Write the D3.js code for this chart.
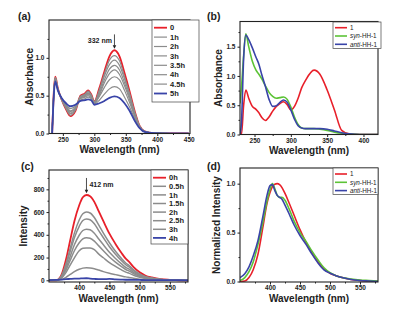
<!DOCTYPE html>
<html lang="en">
<head>
<meta charset="UTF-8">
<title>Absorption and emission spectra</title>
<script src="https://d3js.org/d3.v7.min.js"></script>
<style>
  body { margin: 0; background: #fff; }
  svg { display: block; font-family: "Liberation Sans", Arial, sans-serif; }
  .tick text { font-size: 6.5px; font-weight: bold; fill: #222; }
  .tick line { stroke: #222; }
  .axis path.domain { display: none; }
  .frame { fill: none; stroke: #222; stroke-width: 1.1; }
  .title { font-size: 10px; font-weight: bold; fill: #222; }
  .plabel { font-size: 10.5px; font-weight: bold; fill: #222; }
</style>
</head>
<body>
<script>
// ---- (a) absorbance vs time ----
const wlA = [233, 236, 238, 242, 248, 255, 262, 270, 278, 285, 290, 295, 300, 308, 316, 324, 332, 340, 348, 356, 364, 372, 380, 395, 420, 450];
const absA0   = [0, .60, .75, .60, .45, .32, .23, .30, .50, .53, .57, .52, .42, .60, .82, 1.02, 1.10, 1.02, .80, .56, .30, .10, .03, .005, 0, 0];
const absA1h  = [0, .59, .74, .60, .45, .33, .24, .31, .49, .52, .56, .51, .42, .58, .79, .97, 1.03, .96, .75, .53, .29, .10, .03, .005, 0, 0];
const absA2h  = [0, .59, .74, .59, .45, .34, .26, .32, .49, .51, .54, .50, .41, .56, .76, .91, .97, .90, .72, .51, .27, .09, .03, .005, 0, 0];
const absA3h  = [0, .58, .73, .59, .46, .35, .27, .33, .48, .50, .53, .49, .41, .53, .71, .85, .90, .84, .67, .48, .26, .09, .027, .005, 0, 0];
const absA35h = [0, .58, .72, .59, .46, .35, .29, .33, .47, .49, .52, .49, .40, .51, .67, .79, .84, .78, .63, .45, .24, .09, .026, .005, 0, 0];
const absA4h  = [0, .57, .72, .58, .46, .37, .30, .35, .46, .48, .50, .47, .40, .49, .61, .71, .75, .71, .57, .41, .23, .08, .024, .005, 0, 0];
const absA45h = [0, .56, .70, .57, .47, .38, .33, .36, .44, .46, .48, .46, .39, .44, .52, .59, .62, .59, .48, .35, .20, .08, .022, .005, 0, 0];
const absA5h  = [0, .55, .69, .57, .47, .40, .36, .38, .43, .44, .45, .44, .38, .40, .43, .47, .49, .47, .40, .30, .17, .07, .02, .005, 0, 0];
const labelsA = ["0", "1h", "2h", "3h", "3.5h", "4h", "4.5h", "5h"];

// ---- (b) absorbance of 1, syn-HH-1, anti-HH-1 ----
const wlB = [230, 232, 235, 238, 242, 247, 252, 256, 260, 265, 270, 275, 280, 285, 290, 295, 300, 305, 310, 315, 320, 332, 340, 350, 360, 370, 380, 395, 420];
const absB1    = [0, 0, .50, .76, .62, .48, .43, .37, .29, .24, .30, .40, .48, .53, .56, .51, .42, .48, .62, .80, .92, 1.10, 1.03, .76, .42, .07, .01, 0, 0];
const absBsyn  = [.53, .80, 1.35, 1.72, 1.50, 1.25, 1.10, 1.03, .95, .83, .72, .65, .62, .63, .64, .60, .47, .30, .17, .11, .10, .10, .09, .07, .04, .02, .01, 0, 0];
const absBanti = [0, .20, 1.30, 1.70, 1.62, 1.48, 1.32, 1.20, 1.02, .82, .60, .48, .49, .55, .59, .55, .42, .26, .15, .11, .10, .10, .10, .09, .06, .03, .01, 0, 0];

// ---- (c) emission vs time ----
const wlC = [350, 362, 370, 378, 385, 392, 400, 406, 412, 418, 425, 432, 440, 450, 460, 470, 477, 483, 490, 500, 510, 520, 535, 550, 565, 580];
const emC0h  = [0, 0, 40, 180, 350, 520, 660, 730, 750, 740, 690, 610, 520, 410, 320, 240, 190, 160, 115, 70, 40, 25, 10, 4, 0, 0];
const emC05h = [0, 0, 32, 144, 280, 415, 530, 585, 600, 592, 552, 490, 415, 330, 255, 192, 152, 128, 92, 56, 32, 20, 8, 3, 0, 0];
const emC1h  = [0, 0, 29, 130, 252, 374, 475, 526, 540, 533, 497, 439, 374, 295, 230, 173, 137, 115, 83, 50, 29, 18, 7, 3, 0, 0];
const emC15h = [0, 0, 24, 108, 210, 312, 396, 438, 450, 444, 414, 366, 312, 246, 192, 144, 114, 96, 69, 42, 24, 15, 6, 2, 0, 0];
const emC2h  = [0, 0, 20, 90, 175, 260, 330, 365, 375, 370, 345, 305, 260, 205, 160, 120, 95, 80, 58, 35, 20, 12, 5, 2, 0, 0];
const emC25h = [0, 0, 15, 68, 133, 198, 260, 282, 285, 284, 270, 232, 198, 156, 122, 91, 72, 61, 44, 27, 15, 10, 4, 1, 0, 0];
const emC3h  = [0, 0, 6, 26, 51, 76, 97, 107, 110, 108, 101, 90, 76, 62, 50, 38, 30, 24, 17, 10, 6, 4, 2, 0, 0, 0];
const emC4h  = [2, 3, 6, 10, 12, 14, 15, 17, 18, 15, 12, 10, 10, 12, 8, 6, 5, 5, 4, 3, 2, 2, 2, 1, 1, 0];
const labelsC = ["0h", "0.5h", "1h", "1.5h", "2h", "2.5h", "3h", "4h"];

// ---- (d) normalized emission ----
const wlD = [350, 358, 365, 372, 380, 388, 395, 400, 404, 408, 412, 416, 420, 425, 432, 440, 450, 460, 470, 480, 490, 500, 510, 520, 535, 550, 565, 580];
const emD1    = [0, .005, .04, .12, .28, .55, .80, .91, .97, .995, 1.0, .99, .96, .90, .80, .68, .53, .40, .29, .20, .13, .085, .06, .04, .02, .01, .005, 0];
const emDsyn  = [.01, .04, .10, .20, .38, .60, .82, .94, 1.0, .95, .88, .86, .86, .83, .74, .62, .50, .41, .31, .22, .14, .09, .06, .04, .025, .015, .01, .005];
const emDanti = [.04, .08, .15, .26, .42, .66, .88, .98, .99, .93, .88, .86, .84, .78, .69, .58, .47, .38, .28, .19, .12, .085, .06, .04, .02, .01, .005, 0];
const labelsBD = ["1", "syn-HH-1", "anti-HH-1"];

const RED = "#e8202a", GREEN = "#5cc336", BLUE = "#3944a8", GRAY = "#8c8c8c";

const svg = d3.select("body").append("svg").attr("width", 397).attr("height", 312);

function drawPanel(o) {
  const g = svg.append("g");
  const x = d3.scaleLinear().domain(o.xDomain).range([o.left, o.right]);
  const y = d3.scaleLinear().domain(o.yDomain).range([o.bottom, o.top]);

  const clipId = "clip-" + o.id;
  svg.append("clipPath").attr("id", clipId).append("rect")
    .attr("x", o.left).attr("y", o.top)
    .attr("width", o.right - o.left).attr("height", o.bottom - o.top);

  const line = d3.line().x(d => x(d[0])).y(d => y(d[1])).curve(d3.curveMonotoneX);
  const curves = g.append("g").attr("clip-path", `url(#${clipId})`);
  o.series.forEach(s => {
    curves.append("path")
      .attr("d", line(d3.zip(s.wl, s.values)))
      .attr("fill", "none").attr("stroke", s.color).attr("stroke-width", s.width)
      .attr("stroke-linejoin", "round");
  });

  // minor ticks between the labelled ones
  const step = o.xTicks[1] - o.xTicks[0];
  const xMinor = d3.range(o.xTicks[0] - step / 2, o.xDomain[1], step / 2)
    .filter(v => v >= o.xDomain[0] && !o.xTicks.includes(v));
  const ystep = o.yTicks[1] - o.yTicks[0];
  const yMinor = d3.range(o.yTicks[0] - ystep / 2, o.yDomain[1], ystep / 2)
    .filter(v => v >= o.yDomain[0] && !o.yTicks.includes(v));

  g.append("g").attr("class", "axis").attr("transform", `translate(0,${o.bottom})`)
    .call(d3.axisBottom(x).tickValues(xMinor).tickSize(1.5).tickFormat(""));
  g.append("g").attr("class", "axis").attr("transform", `translate(${o.left},0)`)
    .call(d3.axisLeft(y).tickValues(yMinor).tickSize(1.5).tickFormat(""));
  g.append("g").attr("class", "axis").attr("transform", `translate(0,${o.bottom})`)
    .call(d3.axisBottom(x).tickValues(o.xTicks).tickSize(2.5).tickPadding(1.2));
  g.append("g").attr("class", "axis").attr("transform", `translate(${o.left},0)`)
    .call(d3.axisLeft(y).tickValues(o.yTicks).tickSize(2.5).tickPadding(2)
      .tickFormat(o.yFormat));

  g.append("rect").attr("class", "frame")
    .attr("x", o.left).attr("y", o.top)
    .attr("width", o.right - o.left).attr("height", o.bottom - o.top);

  // titles
  g.append("text").attr("class", "title").attr("text-anchor", "middle")
    .attr("x", (o.left + o.right) / 2).attr("y", o.bottom + 19.5)
    .text("Wavelength (nm)");
  g.append("text").attr("class", "title").attr("text-anchor", "middle")
    .attr("transform", `translate(${o.yTitleX},${(o.top + o.bottom) / 2}) rotate(-90)`)
    .text(o.yTitle);
  g.append("text").attr("class", "plabel")
    .attr("x", o.labelX).attr("y", o.labelY).text(o.label);

  // legend
  const L = o.legend;
  const lg = g.append("g");
  lg.append("rect").attr("x", L.x0).attr("y", L.y0)
    .attr("width", L.x1 - L.x0).attr("height", L.y1 - L.y0)
    .attr("fill", "#fff").attr("stroke", "#444").attr("stroke-width", 0.7);
  o.series.forEach((s, i) => {
    const yy = L.row0 + i * L.step;
    lg.append("line").attr("x1", L.x0 + 2).attr("x2", L.x0 + L.lineLen + 2)
      .attr("y1", yy).attr("y2", yy)
      .attr("stroke", s.color).attr("stroke-width", s.width);
    const t = lg.append("text").attr("x", L.x0 + L.lineLen + 5).attr("y", yy + L.fontSize * 0.36)
      .attr("font-size", L.fontSize).attr("font-weight", L.bold ? "bold" : "normal")
      .attr("fill", "#222");
    const m = s.label.match(/^(syn|anti)(-.*)$/);
    if (m) {
      t.append("tspan").attr("font-style", "italic").text(m[1]);
      t.append("tspan").text(m[2]);
    } else {
      t.text(s.label);
    }
  });

  // peak annotation
  if (o.note) {
    const n = o.note;
    const ax = x(n.wl);
    g.append("line").attr("x1", ax).attr("x2", ax)
      .attr("y1", y(n.from)).attr("y2", y(n.to) - 3)
      .attr("stroke", "#222").attr("stroke-width", 0.8);
    g.append("path")
      .attr("d", `M${ax - 1.8},${y(n.to) - 3.5}L${ax + 1.8},${y(n.to) - 3.5}L${ax},${y(n.to)}Z`)
      .attr("fill", "#222");
    g.append("text").attr("font-size", 7).attr("font-weight", "bold").attr("fill", "#222")
      .attr("text-anchor", n.side === "left" ? "end" : "start")
      .attr("x", n.side === "left" ? ax - 2.5 : ax + 3)
      .attr("y", y(n.textAt))
      .text(n.text);
  }
}

const fmt1 = d3.format(".1f");

drawPanel({
  id: "a", label: "(a)", labelX: 18, labelY: 19.5,
  left: 49, right: 190, top: 20, bottom: 133.5,
  xDomain: [228, 452], yDomain: [0, 1.5],
  xTicks: [250, 300, 350, 400, 450], yTicks: [0, 0.5, 1.0], yFormat: fmt1,
  yTitle: "Absorbance", yTitleX: 33,
  series: [absA0, absA1h, absA2h, absA3h, absA35h, absA4h, absA45h, absA5h].map((v, i, arr) => ({
    wl: wlA, values: v, label: labelsA[i],
    color: i === 0 ? RED : i === arr.length - 1 ? BLUE : GRAY,
    width: i === 0 || i === arr.length - 1 ? 1.8 : 1.2
  })),
  legend: { x0: 152, x1: 199, y0: 20, y1: 102, row0: 27.7, step: 9.4, lineLen: 13, fontSize: 7.5, bold: true },
  note: { wl: 332, from: 1.31, to: 1.12, textAt: 1.2, text: "332 nm", side: "left" }
});

drawPanel({
  id: "b", label: "(b)", labelX: 207, labelY: 19.5,
  left: 240, right: 378, top: 21.5, bottom: 134.5,
  xDomain: [230, 420], yDomain: [0, 1.93],
  xTicks: [250, 300, 350, 400], yTicks: [0, 0.5, 1.0, 1.5], yFormat: fmt1,
  yTitle: "Absorbance", yTitleX: 222,
  series: [
    { wl: wlB, values: absB1, label: labelsBD[0], color: RED, width: 1.6 },
    { wl: wlB, values: absBsyn, label: labelsBD[1], color: GREEN, width: 1.6 },
    { wl: wlB, values: absBanti, label: labelsBD[2], color: BLUE, width: 1.6 }
  ],
  legend: { x0: 333, x1: 381, y0: 22, y1: 48.5, row0: 27.7, step: 8.3, lineLen: 12, fontSize: 6.3, bold: false }
});

drawPanel({
  id: "c", label: "(c)", labelX: 21, labelY: 170,
  left: 49, right: 188, top: 170, bottom: 282,
  xDomain: [350, 580], yDomain: [-15, 970],
  xTicks: [400, 450, 500, 550], yTicks: [0, 200, 400, 600, 800], yFormat: d3.format("d"),
  yTitle: "Intensity", yTitleX: 27,
  series: [emC0h, emC05h, emC1h, emC15h, emC2h, emC25h, emC3h, emC4h].map((v, i, arr) => ({
    wl: wlC, values: v, label: labelsC[i],
    color: i === 0 ? RED : i === arr.length - 1 ? BLUE : GRAY,
    width: i === 0 || i === arr.length - 1 ? 1.8 : 1.5
  })),
  legend: { x0: 151, x1: 188, y0: 170, y1: 244, row0: 177.7, step: 8.6, lineLen: 13, fontSize: 7.5, bold: true },
  note: { wl: 412, from: 900, to: 765, textAt: 820, text: "412 nm", side: "right" }
});

drawPanel({
  id: "d", label: "(d)", labelX: 207, labelY: 170,
  left: 240, right: 378, top: 168, bottom: 282,
  xDomain: [350, 580], yDomain: [-0.005, 1.16],
  xTicks: [400, 450, 500, 550], yTicks: [0, 0.5, 1.0], yFormat: fmt1,
  yTitle: "Normalized Intensity", yTitleX: 220,
  series: [
    { wl: wlD, values: emD1, label: labelsBD[0], color: RED, width: 1.6 },
    { wl: wlD, values: emDsyn, label: labelsBD[1], color: GREEN, width: 1.6 },
    { wl: wlD, values: emDanti, label: labelsBD[2], color: BLUE, width: 1.6 }
  ],
  legend: { x0: 333, x1: 378, y0: 168, y1: 194.5, row0: 174, step: 8.3, lineLen: 12, fontSize: 6.3, bold: false }
});
</script>
</body>
</html>
